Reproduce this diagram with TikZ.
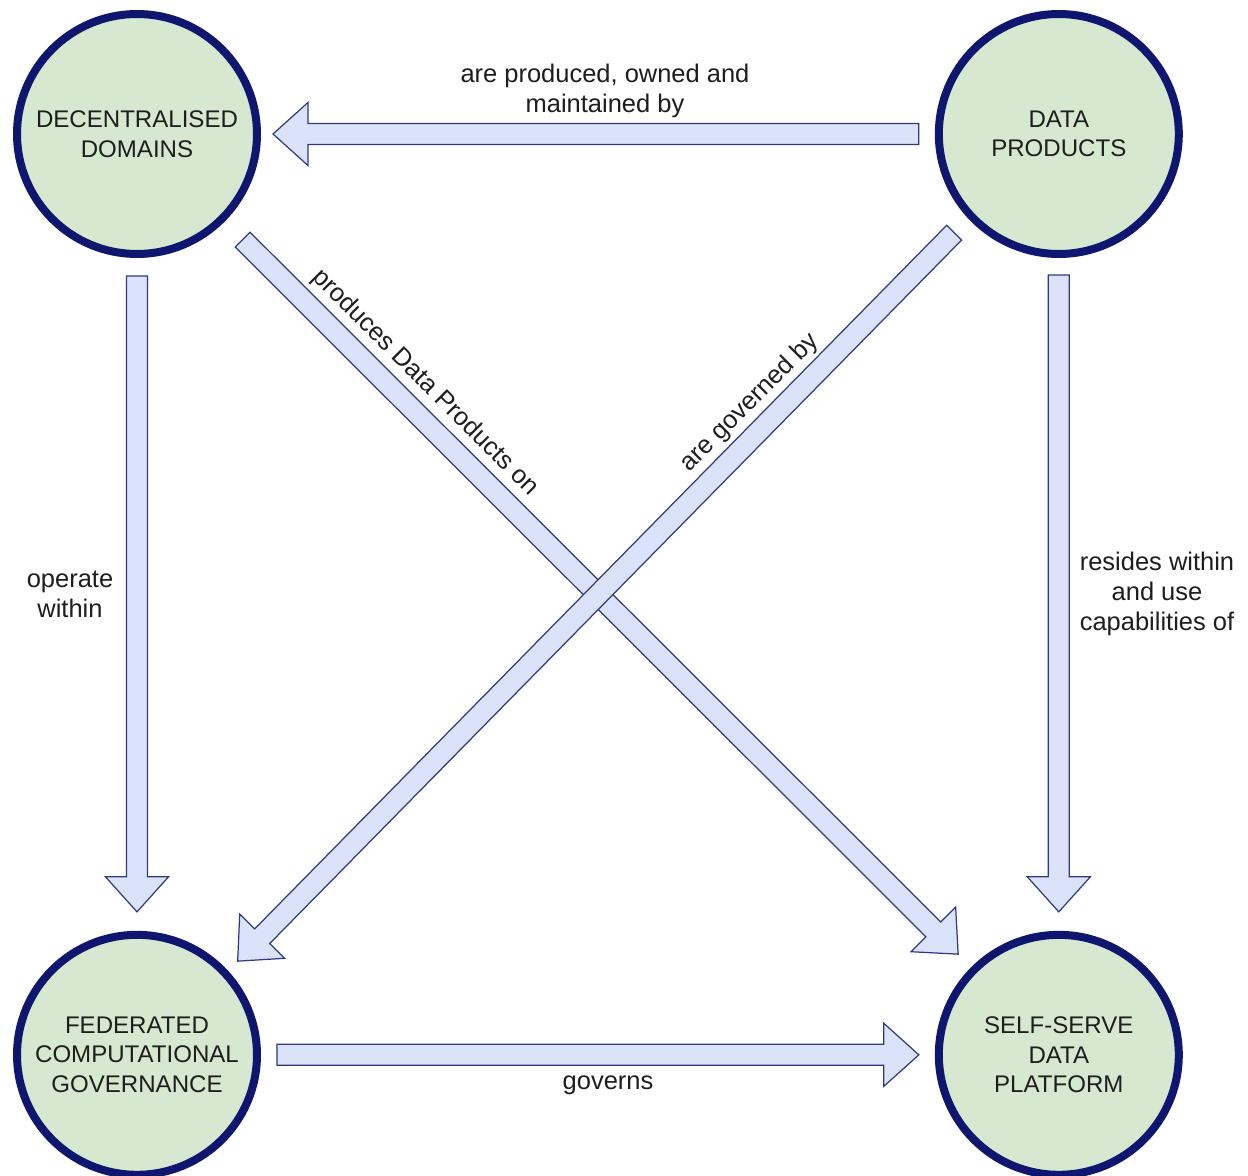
\documentclass[tikz,border=0pt]{standalone}
\usepackage{fontspec}
\setmainfont{Liberation Sans}
\usepackage{tikz}
\usetikzlibrary{positioning, calc}
\definecolor{ringblue}{RGB}{14,22,112}
\definecolor{circlegreen}{RGB}{214,232,208}
\definecolor{arrowfill}{RGB}{218,227,250}
\definecolor{arrowline}{RGB}{48,58,128}
\definecolor{labeltext}{RGB}{30,30,30}
\tikzset{
	principle/.append style={
		circle,
		draw=ringblue,
		fill=circlegreen,
		line width=0.16cm,
		minimum size=4.8cm,
		inner sep=0mm,
		align=center,
		text=labeltext,
		font={\fontsize{13.7}{16.8}\selectfont}
	},
	labe/.append style={
		align=center,
		text=labeltext,
		inner sep=0mm,
		font={\fontsize{14.5}{17}\selectfont}
	},
	fat/.append style={
		draw=arrowline,
		fill=arrowfill,
		line width=0.7pt,
		line join=miter
	}
}
\newcommand{\shafthw}{0.21cm}
\newcommand{\headhw}{0.63cm}
\newcommand{\headlen}{0.7cm}
% hollow block arrow from #1 to #2
\newcommand{\fatarrow}[2]{%
	\coordinate (fa-neck) at ($(#2)!\headlen!(#1)$);
	\filldraw[fat]
		($(#1)!\shafthw!90:(#2)$) -- ($(fa-neck)!\shafthw!-90:(#1)$) --
		($(fa-neck)!\headhw!-90:(#1)$) -- (#2) --
		($(fa-neck)!\headhw!90:(#1)$) -- ($(fa-neck)!\shafthw!90:(#1)$) --
		($(#1)!\shafthw!-90:(#2)$) -- cycle;
}
\begin{document}
\begin{tikzpicture}[x=0.02cm, y=-0.02cm, node distance=18.42cm and 18.44cm, on grid]

\useasboundingbox[fill=white] (0,0) rectangle (1248,1176);

\node(dd)[principle] at (137,134) {DECENTRALISED\\DOMAINS};
\node(dp)[principle, right=of dd]{DATA\\PRODUCTS};
\node(fg)[principle, below=of dd]{FEDERATED\\COMPUTATIONAL\\GOVERNANCE};
\node(sp)[principle, below=of dp]{SELF-SERVE\\DATA\\PLATFORM};

% arrow ends, kept clear of the rings
\coordinate (dp-w) at ([shift={(-16,0)}]dp.west);
\coordinate (dd-e) at ([shift={(12,0)}]dd.east);
\coordinate (dd-s) at ([shift={(0,18)}]dd.south);
\coordinate (fg-n) at ([shift={(0,-19)}]fg.north);
\coordinate (dp-s) at ([shift={(0,17)}]dp.south);
\coordinate (sp-n) at ([shift={(0,-19)}]sp.north);
\coordinate (fg-e) at ([shift={(16,0)}]fg.east);
\coordinate (sp-w) at ([shift={(-16,0)}]sp.west);
\coordinate (dd-se) at ([shift={(18,18)}]dd.south east);
\coordinate (sp-nw) at ([shift={(-13,-13)}]sp.north west);
\coordinate (dp-sw) at ([shift={(-17,11)}]dp.south west);
\coordinate (fg-ne) at ([shift={(13,-6)}]fg.north east);

\fatarrow{dp-w}{dd-e}
\fatarrow{dd-s}{fg-n}
\fatarrow{dp-s}{sp-n}
\fatarrow{fg-e}{sp-w}
\fatarrow{dd-se}{sp-nw}
\fatarrow{dp-sw}{fg-ne}

\node(l-owned)[labe] at (605,91) {are produced, owned and\\maintained by};
\node(l-operate)[labe] at (70,594) {operate\\within};
\node(l-resides)[labe] at (1157,594) {resides within\\and use\\capabilities of};
\node(l-governs)[labe] at (608,1085) {governs};
\node(l-produces)[labe, rotate=-45] at (425,383) {produces Data Products on};
\node(l-governed)[labe, rotate=45] at (750,403) {are governed by};

\end{tikzpicture}
\end{document}
